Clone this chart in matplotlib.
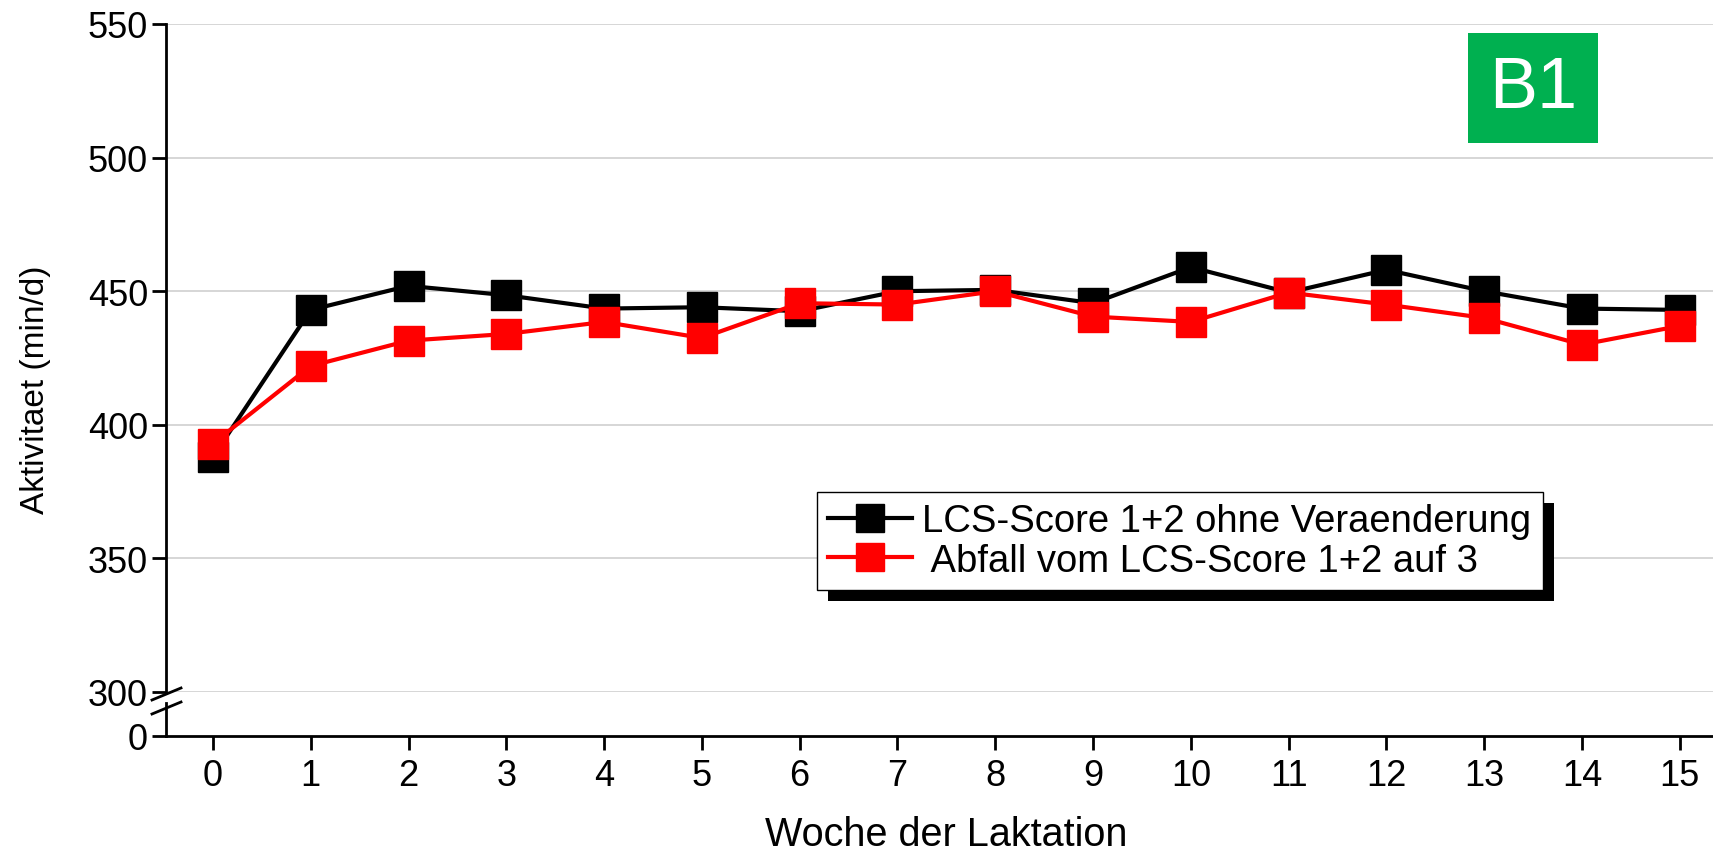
import matplotlib.pyplot as plt
from matplotlib.lines import Line2D
from matplotlib.patches import Rectangle

plt.rcParams['font.family'] = ['Liberation Sans', 'DejaVu Sans']

weeks = list(range(16))
lcs_stable = [388, 443, 452, 448.5, 443.5, 444, 442.5, 450, 450.5, 445.5,
              459, 449.5, 458, 450, 443.5, 443]
lcs_drop = [393, 422, 431.5, 434, 438.5, 432.5, 445.5, 445, 450, 440.5,
            438.5, 449.5, 445, 440, 430, 437]
y_ticks = [300, 350, 400, 450, 500, 550]
labels = ['LCS-Score 1+2 ohne Veraenderung', ' Abfall vom LCS-Score 1+2 auf 3']

W, H = 1713, 853
fig = plt.figure(figsize=(W / 100, H / 100), dpi=100)

# upper part 300..550, lower stub with the 0 tick
ax = fig.add_axes([166 / W, 1 - 693 / H, (W - 166) / W, (693 - 25) / H])
ax_bot = fig.add_axes([166 / W, 1 - 737 / H, (W - 166) / W, (737 - 704) / H], sharex=ax)

ax.plot(weeks, lcs_stable, color='black', lw=3, marker='s', ms=22, label=labels[0], zorder=3, clip_on=False)
ax.plot(weeks, lcs_drop, color='#ff0000', lw=3, marker='s', ms=22, label=labels[1], zorder=4, clip_on=False)

ax.set_xlim(-0.48, 15.34)
ax.set_ylim(300, 550)
ax.set_yticks(y_ticks)
ax.yaxis.grid(True, color='#cfcfcf', lw=1.2)
ax.set_axisbelow(True)
for s in ['top', 'right', 'bottom']:
    ax.spines[s].set_visible(False)
ax.spines['left'].set_linewidth(2)
ax.tick_params(axis='x', bottom=False, labelbottom=False)
ax.tick_params(axis='y', length=10, width=2, labelsize=26, pad=3)

ax_bot.set_ylim(0, 10)
ax_bot.set_yticks([0])
for s in ['top', 'right']:
    ax_bot.spines[s].set_visible(False)
ax_bot.spines['left'].set_linewidth(2)
ax_bot.spines['bottom'].set_linewidth(2)
ax_bot.set_xticks(weeks)
ax_bot.tick_params(axis='x', length=10, width=2, labelsize=26, pad=6)
ax_bot.tick_params(axis='y', length=10, width=2, labelsize=26, pad=3)

# axis break marks
for y0, y1 in [(701, 689), (715, 703)]:
    fig.add_artist(Line2D([152 / W, 181 / W], [1 - y0 / H, 1 - y1 / H],
                          transform=fig.transFigure, color='black', lw=2))

fig.text(36 / W, 1 - 390 / H, 'Aktivitaet (min/d)', rotation=90, ha='center', va='center', fontsize=24)
fig.text(946 / W, 1 - 835 / H, 'Woche der Laktation', ha='center', va='center', fontsize=28.5)

# legend with hard black shadow
leg = fig.legend(loc='upper left', bbox_to_anchor=(817 / W, 1 - 493 / H), fontsize=27.5,
                 frameon=True, fancybox=False, edgecolor='black', framealpha=1,
                 handlelength=2.2, borderpad=0.3, labelspacing=0.08, handletextpad=0.25,
                 borderaxespad=0, markerscale=0.9)
leg.get_frame().set_linewidth(1)
fig.canvas.draw()
bb = leg.get_window_extent()
fig.add_artist(Rectangle((bb.x0 + 11, bb.y0 - 11), bb.width, bb.height, transform=None,
                         facecolor='black', edgecolor='none', zorder=4))

# B1 badge
fig.add_artist(Rectangle((1468 / W, 1 - 144 / H), 130 / W, 110 / H, transform=fig.transFigure,
                         facecolor='#00b050', edgecolor='none'))
fig.text(1533 / W, 1 - 89 / H, 'B1', color='white', ha='center', va='center', fontsize=52)

fig.savefig('out.png', dpi=100)
